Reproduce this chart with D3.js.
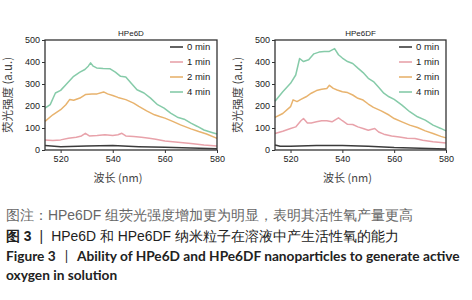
<!DOCTYPE html>
<html>
<head>
<meta charset="utf-8">
<script src="https://cdn.jsdelivr.net/npm/d3@7"></script>
<style>
  body { margin: 0; background: #fff; }
  text { font-family: "Liberation Sans", Arial, sans-serif; }
  .cjk { font-family: "Noto Sans CJK SC", sans-serif; }
</style>
</head>
<body>
<svg id="chart" width="472" height="300"></svg>
<script>
// ── Data ──────────────────────────────────────────────────────
const seriesNames = ["0 min", "1 min", "2 min", "4 min"];
const seriesColors = ["#3b3b3b", "#e8a2aa", "#e8b36e", "#86cba9"];
const yTicks = [0, 100, 200, 300, 400, 500];
const xTicks = [520, 540, 560, 580];

// HPe6D  [wavelength nm, intensity a.u.]
const d6d_0min = [[514,20],[520,15],[530,18],[540,20],[550,15],[560,12],[570,9],[580,6]];
const d6d_1min = [[514,46],[517,43],[520,46],[523,53],[526,58],[528,64],[529.5,76],[531,64],[534,66],[537,69],
  [540,66],[542,69],[543.5,76],[545,64],[548,61],[551,58],[554,53],[556.5,49],[560,41],[565,35],[570,30],[575,23],[580,18]];
const d6d_2min = [[514,130],[517,160],[520,183],[522,206],[523.5,230],[525,226],[527.4,236],[529.5,252],[532,255],[534,255],
  [536.5,264],[538,255],[540,248],[542,239],[545,229],[548,213],[550,198],[553,178],[556,160],[558,152],[560,145],
  [563,130],[566,114],[570,96],[573,84],[576,73],[580,53]];
const d6d_4min = [[514,190],[516,206],[518,259],[520,271],[522,297],[525,335],[527.4,354],[529.3,366],[530.6,381],[531.5,396],
  [532.5,381],[533.8,373],[536.3,370],[539,369],[541,354],[543,335],[545,332],[547,305],[549.3,274],[552,259],
  [554.5,236],[557.2,206],[559.7,190],[562.2,168],[564.8,149],[567.4,140],[570,122],[572.5,107],[575,91],[577.7,81],[580,73]];

// HPe6DF
const d6df_0min = [[514,23],[516,17],[520,17],[530,20],[540,20],[550,17],[560,11],[570,8],[580,5]];
const d6df_1min = [[514,75],[517,85],[520,98],[522,105],[524,133],[525,143],[526.5,123],[528,123],[530,128],[532,133],
  [534,133],[536,128],[538.5,146],[540,133],[542,117],[544,116],[546,105],[548,98],[550,90],[552.5,98],[554,82],
  [556,72],[559,64],[562,59],[565,53],[568,52],[571,44],[575,37],[580,32]];
const d6df_2min = [[514,148],[517,166],[520,197],[521,228],[522.5,220],[524,230],[526,242],[528,258],[530,270],[532,276],
  [534,280],[535,294],[536.5,280],[538,273],[540,265],[542,261],[544,250],[546,235],[548,227],[550,209],[552,194],
  [555,178],[558,159],[560,143],[563,128],[566,113],[569,102],[572,87],[575,75],[578,62],[580,55]];
const d6df_4min = [[514,222],[517,265],[520,303],[522,341],[523.5,416],[525,402],[527,410],[529,437],[531,445],[533,448],
  [535,448],[537,461],[538.5,433],[540,418],[542,402],[544,393],[546,372],[548,352],[550,326],[552,311],[554,285],
  [556,258],[558,242],[560,230],[563,204],[566,174],[569,151],[572,136],[575,113],[578,98],[580,87]];

const panels = [
  { title: "HPe6D",  series: [d6d_0min, d6d_1min, d6d_2min, d6d_4min],    x0: 45,  x1: 217, labelX: 8 },
  { title: "HPe6DF", series: [d6df_0min, d6df_1min, d6df_2min, d6df_4min], x0: 275, x1: 446, labelX: 238 }
];

const svg = d3.select("#chart");
const plotTop = 40, plotBottom = 150;
const ink = "#333";

panels.forEach(p => {
  const x = d3.scaleLinear().domain([514, 580]).range([p.x0, p.x1]);
  const y = d3.scaleLinear().domain([0, 500]).range([plotBottom, plotTop]);
  const g = svg.append("g");

  // curves
  const line = d3.line().x(d => x(d[0])).y(d => y(d[1]));
  p.series.forEach((s, i) => {
    g.append("path")
      .attr("d", line(s))
      .attr("fill", "none")
      .attr("stroke", seriesColors[i])
      .attr("stroke-width", 1.5)
      .attr("stroke-linejoin", "round");
  });

  // frame
  g.append("rect")
    .attr("x", p.x0).attr("y", plotTop)
    .attr("width", p.x1 - p.x0).attr("height", plotBottom - plotTop)
    .attr("fill", "none").attr("stroke", ink).attr("stroke-width", 1.3);

  // axes
  const ya = g.append("g").attr("transform", `translate(${p.x0},0)`)
    .call(d3.axisLeft(y).tickValues(yTicks).tickSize(3).tickPadding(2));
  const xa = g.append("g").attr("transform", `translate(0,${plotBottom})`)
    .call(d3.axisBottom(x).tickValues(xTicks).tickSize(3).tickPadding(3));
  [ya, xa].forEach(a => {
    a.select(".domain").remove();
    a.selectAll("line").attr("stroke", ink);
    a.selectAll("text").attr("fill", "#222").style("font-size", "9px");
  });

  // title
  g.append("text")
    .attr("x", (p.x0 + p.x1) / 2).attr("y", 36)
    .attr("text-anchor", "middle")
    .style("font-size", "8px").attr("fill", "#222")
    .text(p.title);

  // axis labels
  g.append("text")
    .attr("class", "cjk")
    .attr("transform", `translate(${p.labelX},${(plotTop + plotBottom) / 2}) rotate(-90)`)
    .attr("text-anchor", "middle").attr("dy", "0.35em")
    .style("font-size", "11.5px").attr("fill", "#444")
    .text("荧光强度 (a.u.)");
  g.append("text")
    .attr("class", "cjk")
    .attr("x", (p.x0 + p.x1) / 2 - 13).attr("y", 178)
    .attr("text-anchor", "middle").attr("dy", "0.35em")
    .style("font-size", "11px").attr("fill", "#444")
    .text("波长 (nm)");

  // legend
  const lg = g.append("g").attr("transform", `translate(${p.x1 - 47},47)`);
  seriesNames.forEach((name, i) => {
    const row = lg.append("g").attr("transform", `translate(0,${i * 15})`);
    row.append("line").attr("x1", 0).attr("x2", 13)
      .attr("stroke", seriesColors[i]).attr("stroke-width", 1.6);
    row.append("text").attr("x", 17).attr("dy", "0.35em")
      .style("font-size", "9.5px").attr("fill", "#222").text(name);
  });
});

// ── Caption ───────────────────────────────────────────────────
const cap = svg.append("g").attr("class", "cjk");
cap.append("text").attr("x", 6).attr("y", 220)
  .style("font-size", "13.9px").attr("fill", "#666")
  .text("图注：HPe6DF 组荧光强度增加更为明显，表明其活性氧产量更高");
const l2 = cap.append("text").attr("x", 6).attr("y", 241)
  .style("font-size", "13.9px").attr("fill", "#222");
l2.append("tspan").style("font-weight", "bold").text("图 3");
l2.append("tspan").attr("dx", 8).style("font-weight", "300").text("|");
l2.append("tspan").attr("dx", 8).text("HPe6D 和 HPe6DF 纳米粒子在溶液中产生活性氧的能力");

const enFont = "Lato, 'Liberation Sans', sans-serif";
const l3 = cap.append("text").attr("x", 6).attr("y", 261)
  .style("font-size", "14px").style("font-weight", "bold").attr("fill", "#222")
  .style("font-family", enFont);
l3.append("tspan").text("Figure 3");
l3.append("tspan").attr("dx", 9).style("font-weight", "normal").text("|");
l3.append("tspan").attr("dx", 9).text("Ability of HPe6D and HPe6DF nanoparticles to generate active");
const l4 = cap.append("text").attr("x", 6).attr("y", 280)
  .style("font-size", "14px").style("font-weight", "bold").attr("fill", "#222")
  .style("font-family", enFont)
  .text("oxygen in solution");

// shrink the English caption so its first line ends where the reference does
const w3 = l3.node().getBBox().width;
const fs = Math.min(14, 14 * 454 / w3);
l3.style("font-size", fs + "px");
l4.style("font-size", fs + "px");
</script>
</body>
</html>
